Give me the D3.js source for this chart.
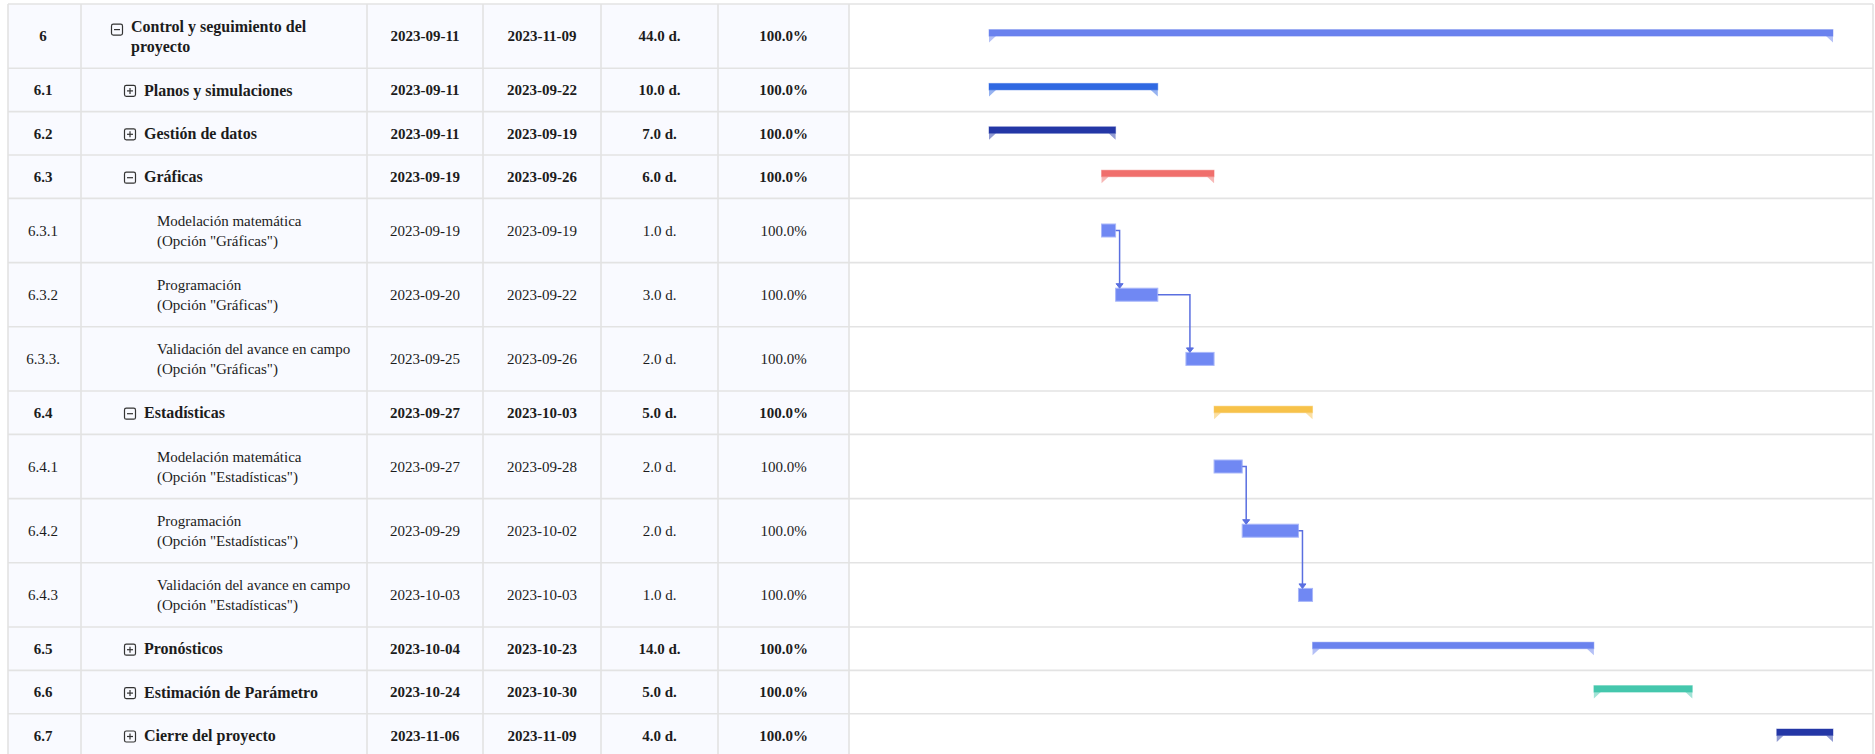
<!DOCTYPE html>
<html>
<head>
<meta charset="utf-8">
<script src="https://cdn.jsdelivr.net/npm/d3@7"></script>
<style>
  html, body { margin: 0; padding: 0; background: #ffffff; }
  svg { display: block; }
  text { font-family: "Liberation Serif", "Times New Roman", serif; font-size: 15px; fill: #1c1c1c; }
</style>
</head>
<body>
<svg id="gantt" width="1875" height="754"></svg>
<script>
// ---- task data ----
const ids = ["6", "6.1", "6.2", "6.3", "6.3.1", "6.3.2", "6.3.3.", "6.4", "6.4.1", "6.4.2", "6.4.3", "6.5", "6.6", "6.7"];
const names = [
  "Control y seguimiento del proyecto",
  "Planos y simulaciones",
  "Gestión de datos",
  "Gráficas",
  "Modelación matemática\n(Opción \"Gráficas\")",
  "Programación\n(Opción \"Gráficas\")",
  "Validación del avance en campo\n(Opción \"Gráficas\")",
  "Estadísticas",
  "Modelación matemática\n(Opción \"Estadísticas\")",
  "Programación\n(Opción \"Estadísticas\")",
  "Validación del avance en campo\n(Opción \"Estadísticas\")",
  "Pronósticos",
  "Estimación de Parámetro",
  "Cierre del proyecto"
];
const levels = [0, 1, 1, 1, 2, 2, 2, 1, 2, 2, 2, 1, 1, 1];
// "open" = expanded group, "closed" = collapsed group, "" = leaf task
const groupState = ["open", "closed", "closed", "open", "", "", "", "open", "", "", "", "closed", "closed", "closed"];
const startDates = ["2023-09-11", "2023-09-11", "2023-09-11", "2023-09-19", "2023-09-19", "2023-09-20", "2023-09-25",
                    "2023-09-27", "2023-09-27", "2023-09-29", "2023-10-03", "2023-10-04", "2023-10-24", "2023-11-06"];
const endDates = ["2023-11-09", "2023-09-22", "2023-09-19", "2023-09-26", "2023-09-19", "2023-09-22", "2023-09-26",
                  "2023-10-03", "2023-09-28", "2023-10-02", "2023-10-03", "2023-10-23", "2023-10-30", "2023-11-09"];
const durations = [44, 10, 7, 6, 1, 3, 2, 5, 2, 2, 1, 14, 5, 4];
const progress = [100, 100, 100, 100, 100, 100, 100, 100, 100, 100, 100, 100, 100, 100];
const barColors = ["#6a82ee", "#2f68e2", "#2437a6", "#f06f6c", "#7088f3", "#7088f3", "#7088f3",
                   "#f7c24a", "#7088f3", "#7088f3", "#7088f3", "#6a82ee", "#45c7ad", "#2437a6"];
const links = [["6.3.1", "6.3.2"], ["6.3.2", "6.3.3."], ["6.4.1", "6.4.2"], ["6.4.2", "6.4.3"]];

// ---- layout ----
const svg = d3.select("#gantt");
const W = 1875, H = 754;
const top0 = 4, left0 = 8, right0 = 1873;
const colEdges = [left0, 81, 367, 483, 601, 718, 849];
const chartLeft = colEdges[colEdges.length - 1];
const gridColor = "#e3e3e3";
const tableBg = "#f9faff";
const nameSizeBold = 16, nameSize = 15;

const parseDay = d3.utcParse("%Y-%m-%d");
const tasks = ids.map((id, i) => ({
  id, name: names[i], level: levels[i], state: groupState[i],
  start: parseDay(startDates[i]), end: d3.utcDay.offset(parseDay(endDates[i]), 1),
  startLabel: startDates[i], endLabel: endDates[i],
  dur: durations[i], prog: progress[i], color: barColors[i],
  summary: groupState[i] !== ""
}));

// name text wraps inside its column
const measure = svg.append("text").attr("visibility", "hidden");
function wrapLines(str, bold, maxW) {
  const out = [];
  str.split("\n").forEach(part => {
    const words = part.split(" ");
    let line = "";
    words.forEach(w => {
      const trial = line ? line + " " + w : w;
      measure.attr("font-weight", bold ? "bold" : "normal")
        .style("font-size", (bold ? nameSizeBold : nameSize) + "px").text(trial);
      if (line && measure.node().getComputedTextLength() > maxW) { out.push(line); line = w; }
      else line = trial;
    });
    out.push(line);
  });
  return out;
}

const iconX0 = 111, indent = 13, iconToText = 20;
tasks.forEach(t => {
  t.textX = iconX0 + t.level * indent + iconToText;
  t.lines = wrapLines(t.name, t.summary, colEdges[2] - t.textX - 8);
  t.h = 22.6 + 20.8 * t.lines.length;
});
measure.remove();
let yAcc = top0;
tasks.forEach(t => { t.y = yAcc; yAcc += t.h; t.cy = t.y + t.h / 2; });

const x = d3.scaleUtc()
  .domain([parseDay(startDates[0]), d3.utcDay.offset(parseDay(endDates[0]), 1)])
  .range([chartLeft + 140, right0 - 40]);

// ---- backgrounds ----
svg.append("rect").attr("x", left0).attr("y", top0).attr("width", chartLeft - left0).attr("height", H - top0).attr("fill", tableBg);
svg.append("rect").attr("x", chartLeft).attr("y", top0).attr("width", right0 - chartLeft).attr("height", H - top0).attr("fill", "#ffffff");

// ---- grid lines ----
const grid = svg.append("g").attr("stroke", gridColor).attr("stroke-width", 1.6);
grid.selectAll("line.h").data([top0].concat(tasks.map(t => t.y + t.h))).join("line")
  .attr("x1", left0).attr("x2", right0).attr("y1", d => d).attr("y2", d => d);
grid.selectAll("line.v").data(colEdges.concat([right0])).join("line")
  .attr("x1", d => d).attr("x2", d => d).attr("y1", top0).attr("y2", H);

// ---- table text ----
const rows = svg.append("g").selectAll("g").data(tasks).join("g")
  .attr("font-weight", d => d.summary ? "bold" : "normal");

function cellText(sel, cx, fn) {
  sel.append("text").attr("x", cx).attr("y", d => d.cy).attr("dy", "0.35em")
    .attr("text-anchor", "middle").text(fn);
}
cellText(rows, 43, d => d.id);
cellText(rows, (colEdges[2] + colEdges[3]) / 2, d => d.startLabel);
cellText(rows, (colEdges[3] + colEdges[4]) / 2, d => d.endLabel);
cellText(rows, (colEdges[4] + colEdges[5]) / 2, d => d.dur.toFixed(1) + " d.");
cellText(rows, (colEdges[5] + colEdges[6]) / 2, d => d.prog.toFixed(1) + "%");

rows.each(function (d) {
  const g = d3.select(this);
  const n = d.lines.length;
  const firstCy = d.cy - (n - 1) * 10;
  d.lines.forEach((ln, k) => {
    g.append("text").attr("x", d.textX).attr("y", firstCy + k * 20).attr("dy", "0.35em")
      .style("font-size", (d.summary ? nameSizeBold : nameSize) + "px").text(ln);
  });
  if (d.state) {
    const ix = iconX0 + d.level * indent, icy = firstCy + (n > 1 ? 3.5 : 1);
    const ig = g.append("g").attr("stroke", "#333333").attr("stroke-width", 1.2).attr("fill", "none");
    ig.append("rect").attr("x", ix + 0.5).attr("y", icy - 5.5).attr("width", 11).attr("height", 11).attr("rx", 1.8);
    ig.append("line").attr("x1", ix + 3).attr("x2", ix + 9).attr("y1", icy).attr("y2", icy);
    if (d.state === "closed") ig.append("line").attr("x1", ix + 6).attr("x2", ix + 6).attr("y1", icy - 3).attr("y2", icy + 3);
  }
});

// ---- bars ----
const bars = svg.append("g");
const earW = 7, halfH = 6.5;
tasks.forEach(t => {
  const x0 = x(t.start), x1 = x(t.end);
  if (t.summary) {
    const yb = t.cy;
    bars.append("path")
      .attr("d", `M${x0},${yb} L${x0 + earW},${yb} L${x0},${yb + halfH} Z M${x1},${yb} L${x1 - earW},${yb} L${x1},${yb + halfH} Z`)
      .attr("fill", t.color).attr("opacity", 0.5);
    bars.append("rect").attr("x", x0).attr("y", yb - halfH).attr("width", x1 - x0).attr("height", halfH)
      .attr("fill", t.color).attr("stroke", t.color).attr("stroke-opacity", 0.45).attr("stroke-width", 1);
  } else {
    bars.append("rect").attr("x", x0).attr("y", t.cy - halfH).attr("width", x1 - x0).attr("height", 2 * halfH)
      .attr("fill", t.color).attr("stroke", "#a9b7f9").attr("stroke-width", 1);
  }
});

// ---- dependency arrows ----
const byId = new Map(tasks.map(t => [t.id, t]));
const arrows = svg.append("g").attr("stroke", "#5a6fe0").attr("fill", "none").attr("stroke-width", 1.5);
links.forEach(([a, b]) => {
  const s = byId.get(a), e = byId.get(b);
  const xs = x(s.end), xa = x(e.start) + 4, yt = e.cy - halfH;
  arrows.append("path").attr("d", `M${xs},${s.cy} H${xa} V${yt - 4}`);
  arrows.append("path").attr("d", `M${xa - 3.5},${yt - 4.5} L${xa + 3.5},${yt - 4.5} L${xa},${yt} Z`)
    .attr("fill", "#5a6fe0").attr("stroke-width", 1);
});
</script>
</body>
</html>
